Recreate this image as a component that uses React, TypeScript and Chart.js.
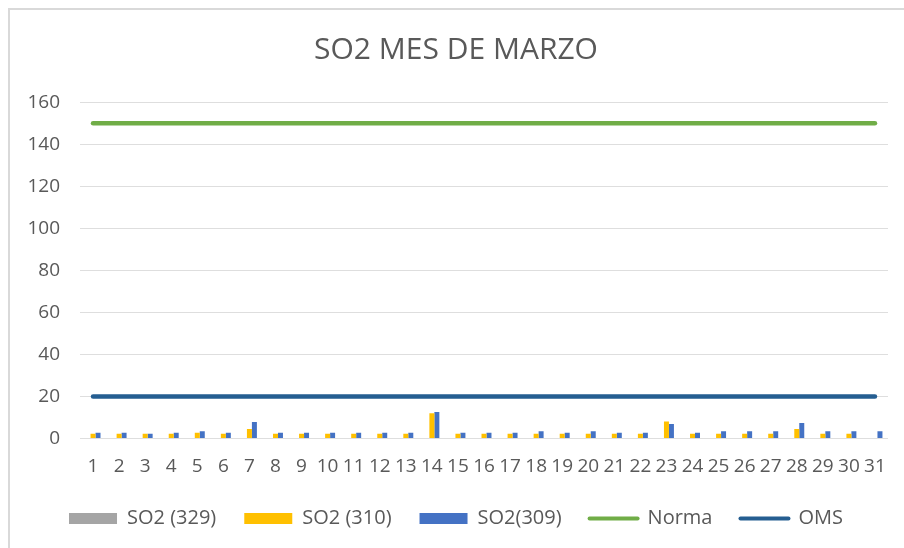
import React, { useEffect, useRef } from "react";
import { Chart, registerables } from "chart.js";

Chart.register(...registerables);

const days: string[] = Array.from({ length: 31 }, (_, i) => String(i + 1));

const so2_329: (number | null)[] = [
  null, null, null, null, null, null, null, null, null, null,
  null, null, null, null, null, null, null, null, null, null,
  null, null, null, null, null, null, null, null, null, null, null,
];

const so2_310: (number | null)[] = [
  2.2, 2.2, 2.2, 2.2, 2.7, 2.2, 4.5, 2.2, 2.2, 2.2,
  2.2, 2.2, 2.2, 12.0, 2.2, 2.2, 2.2, 2.2, 2.2, 2.2,
  2.2, 2.2, 8.0, 2.2, 2.2, 2.2, 2.2, 4.5, 2.2, 2.2, null,
];

const so2_309: (number | null)[] = [
  2.7, 2.7, 2.2, 2.7, 3.4, 2.7, 7.8, 2.7, 2.7, 2.7,
  2.7, 2.7, 2.7, 12.6, 2.7, 2.7, 2.7, 3.4, 2.7, 3.4,
  2.7, 2.7, 6.9, 2.7, 3.4, 3.4, 3.4, 7.3, 3.4, 3.4, 3.4,
];

const norma: number[] = days.map(() => 150);
const oms: number[] = days.map(() => 20);

const FONT = "'Open Sans', sans-serif";
const TEXT = "#595959";

export default function App() {
  const ref = useRef<HTMLCanvasElement | null>(null);

  useEffect(() => {
    document.body.style.margin = "0";
    const canvas = ref.current;
    if (!canvas) return;
    const chart = new Chart(canvas, {
      type: "bar",
      data: {
        labels: days,
        datasets: [
          { type: "bar", label: "SO2 (329)", data: so2_329, backgroundColor: "#a5a5a5" },
          { type: "bar", label: "SO2 (310)", data: so2_310, backgroundColor: "#ffc000" },
          { type: "bar", label: "SO2(309)", data: so2_309, backgroundColor: "#4472c4" },
          {
            type: "line", label: "Norma", data: norma, borderColor: "#70ad47", backgroundColor: "#70ad47",
            borderWidth: 4.5, pointRadius: 0, borderCapStyle: "round",
          },
          {
            type: "line", label: "OMS", data: oms, borderColor: "#255e91", backgroundColor: "#255e91",
            borderWidth: 4.5, pointRadius: 0, borderCapStyle: "round",
          },
        ] as any,
      },
      options: {
        responsive: false,
        animation: false,
        layout: { padding: { left: 24, right: 16, top: 0, bottom: 9.6 } },
        datasets: {
          bar: { categoryPercentage: 0.574, barPercentage: 1 },
        } as any,
        plugins: {
          tooltip: { enabled: false },
          title: {
            display: true,
            text: "SO2 MES DE MARZO",
            color: TEXT,
            font: { family: FONT, size: 30, weight: "normal" as any },
            padding: { top: 32.5, bottom: 33.8 },
          },
          legend: {
            position: "bottom",
            labels: {
              usePointStyle: true,
              pointStyleWidth: 48,
              boxHeight: 11,
              padding: 28,
              color: TEXT,
              font: { family: FONT, size: 20 },
              generateLabels: (c: any) =>
                c.data.datasets.map((ds: any, i: number) => {
                  const isLine = ds.type === "line";
                  return {
                    text: ds.label,
                    fillStyle: isLine ? "rgba(0,0,0,0)" : ds.backgroundColor,
                    strokeStyle: isLine ? ds.borderColor : ds.backgroundColor,
                    lineWidth: isLine ? 4 : 0,
                    lineCap: "round",
                    pointStyle: isLine ? "line" : "rect",
                    hidden: false,
                    datasetIndex: i,
                    fontColor: TEXT,
                  };
                }),
            },
          },
        },
        scales: {
          x: {
            grid: { display: false, drawTicks: false },
            border: { display: false },
            ticks: {
              color: TEXT,
              font: { family: FONT, size: 19 },
              autoSkip: false,
              maxRotation: 0,
              minRotation: 0,
              padding: 16.8,
            },
            afterFit: (s: any) => {
              s.height = 42;
            },
          },
          y: {
            min: 0,
            max: 160,
            grid: { color: "#dedede", lineWidth: 1, drawTicks: false },
            border: { display: false },
            ticks: {
              stepSize: 20,
              color: TEXT,
              font: { family: FONT, size: 19 },
              padding: 20,
            },
            afterFit: (s: any) => {
              s.width = 56;
            },
          },
        },
      },
    });
    return () => chart.destroy();
  }, []);

  return (
    <div style={{ position: "fixed", left: 0, top: 0, width: 904, height: 548, overflow: "hidden", background: "#fff" }}>
      <div
        style={{
          position: "absolute", left: 8, top: 8, width: 1000, height: 1000,
          border: "2px solid #d9d9d9", boxSizing: "border-box",
        }}
      />
      <canvas ref={ref} width={904} height={548} style={{ position: "absolute", left: 0, top: 0, width: 904, height: 548 }} />
    </div>
  );
}
